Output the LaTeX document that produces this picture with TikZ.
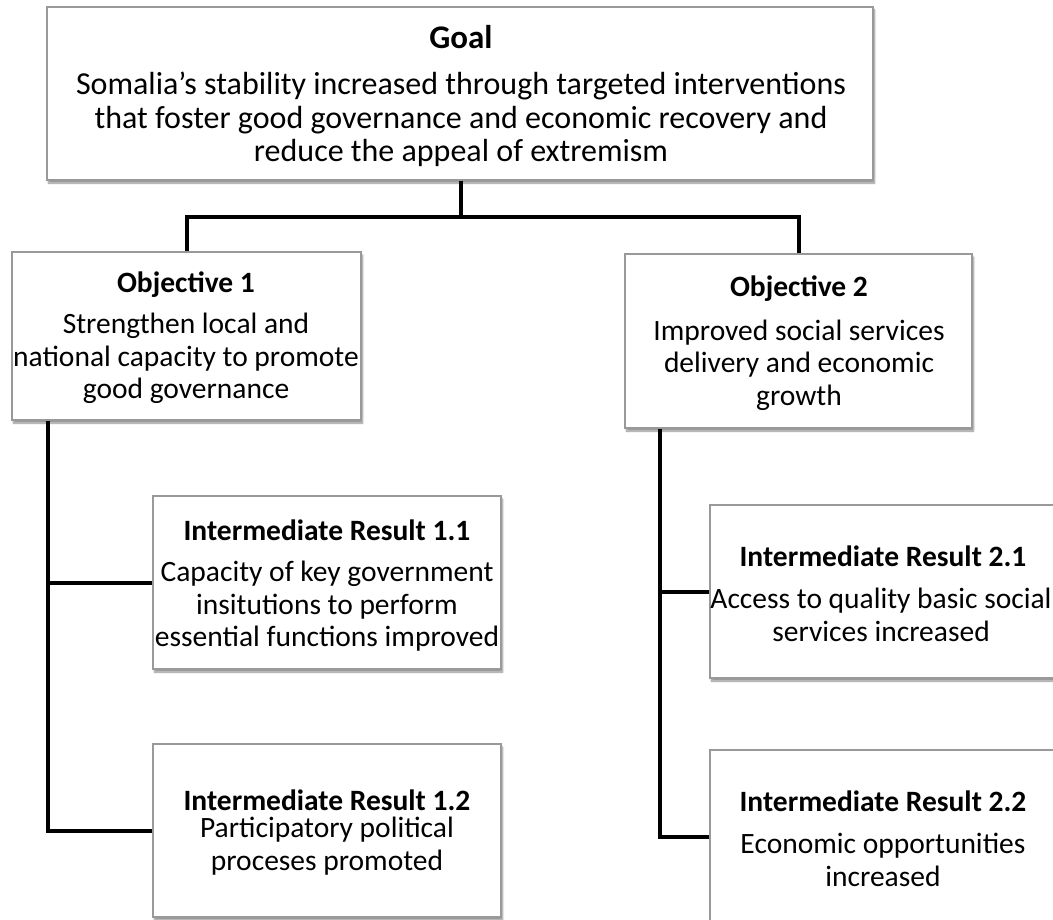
\documentclass[tikz,border=0pt]{standalone}
\usepackage{fontspec}
\setmainfont{Carlito}
\usetikzlibrary{shadows.blur}
\begin{document}
\begin{tikzpicture}[x=1pt,y=-1pt,
  box/.style={draw=black!40, line width=1.2pt, fill=white, rectangle,
    inner sep=0pt, minimum width=348pt, minimum height=173pt,
    blur shadow={shadow xshift=1.5pt, shadow yshift=-3pt, shadow blur steps=6, shadow opacity=45}},
  ttl/.style={font=\fontsize{29.5}{32.5}\selectfont\bfseries, inner sep=0pt, anchor=center},
  body/.style={font=\fontsize{29.5}{32.5}\selectfont, align=center, inner sep=0pt, anchor=center},
  big/.style={font=\fontsize{32}{33.5}\selectfont},
  conn/.style={draw=black, line width=4pt}]
\useasboundingbox (0,0) rectangle (1053,920);

% boxes
\node[box, minimum width=826pt] (goal) at (460,93.5) {};
\node[box, minimum width=349pt, minimum height=168pt] (obj1) at (186.5,336) {};
\node[box, minimum width=347pt, minimum height=174pt] (obj2) at (798.5,341) {};
\node[box] (ir11) at (327,582.5) {};
\node[box] (ir12) at (327,830.5) {};
\node[box] (ir21) at (884,591.5) {};
\node[box] (ir22) at (884,836.5) {};

% texts
\node[ttl, font=\fontsize{33}{34}\selectfont\bfseries] (goalT) at (461,37) {Goal};
\node[body, big] (goalB) at (461,119.5) {Somalia’s stability increased through targeted interventions\\that foster good governance and economic recovery and\\reduce the appeal of extremism};
\node[ttl] (obj1T) at (186,285) {Objective 1};
\node[body] (obj1B) at (186,358.5) {Strengthen local and\\national capacity to promote\\good governance};
\node[ttl] (obj2T) at (799,289) {Objective 2};
\node[body] (obj2B) at (799,365) {Improved social services\\delivery and economic\\growth};
\node[ttl] (ir11T) at (327,530) {Intermediate Result 1.1};
\node[body] (ir11B) at (327,606.5) {Capacity of key government\\insitutions to perform\\essential functions improved};
\node[ttl] (ir12T) at (327,800) {Intermediate Result 1.2};
\node[body] (ir12B) at (327,846) {Participatory political\\proceses promoted};
\node[ttl] (ir21T) at (883,556) {Intermediate Result 2.1};
\node[body] (ir21B) at (881,615) {Access to quality basic social\\services increased};
\node[ttl] (ir22T) at (883,801) {Intermediate Result 2.2};
\node[body] (ir22B) at (883,860) {Economic opportunities\\increased};

% connectors
\coordinate (split) at (461,217);
\draw[conn] (goal.south -| split) -- (split);
\draw[conn] (obj1.north) |- (split) -| (obj2.north);
\coordinate (trunkL) at (48,0);
\coordinate (trunkR) at (660,0);
\draw[conn] (obj1.south -| trunkL) |- (ir12.west);
\draw[conn] (ir11.west) -- (ir11.west -| trunkL);
\draw[conn] (obj2.south -| trunkR) |- (ir22.west);
\draw[conn] (ir21.west) -- (ir21.west -| trunkR);
\end{tikzpicture}
\end{document}
